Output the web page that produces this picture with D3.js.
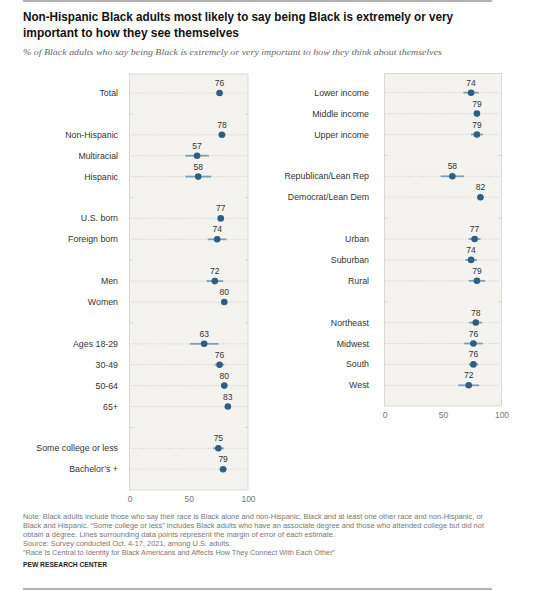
<!DOCTYPE html>
<html>
<head>
<meta charset="utf-8">
<script src="https://cdn.jsdelivr.net/npm/d3@7"></script>
<style>
  body { margin: 0; background: #fff; }
  svg { display: block; }
  text { font-family: "Liberation Sans", Arial, sans-serif; }
</style>
</head>
<body>
<svg id="chart" width="550" height="590"></svg>
<script>
// ---- Data ----
const leftCategories = ["Total", "Non-Hispanic", "Multiracial", "Hispanic", "U.S. born", "Foreign born",
  "Men", "Women", "Ages 18-29", "30-49", "50-64", "65+", "Some college or less", "Bachelor\u2019s +"];
const leftValues = [76, 78, 57, 58, 77, 74, 72, 80, 63, 76, 80, 83, 75, 79];
const leftLow    = [74, 75, 47, 47, 75, 66, 65, 78, 51, 72, 77.5, 80.5, 70.5, 76];
const leftHigh   = [78, 81, 67, 69, 79, 82, 79, 82, 75, 80, 82.5, 85.5, 79.5, 82];
const leftGroup  = [0, 1, 1, 1, 2, 2, 3, 3, 4, 4, 4, 4, 5, 5];

const rightCategories = ["Lower income", "Middle income", "Upper income", "Republican/Lean Rep", "Democrat/Lean Dem",
  "Urban", "Suburban", "Rural", "Northeast", "Midwest", "South", "West"];
const rightValues = [74, 79, 79, 58, 82, 77, 74, 79, 78, 76, 76, 72];
const rightLow    = [67.5, 76.5, 74, 48, 79.5, 72, 69, 72, 72.5, 68, 72, 63];
const rightHigh   = [80.5, 81.5, 84, 68, 84.5, 82, 79, 86, 83.5, 84, 80, 81];
const rightGroup  = [0, 0, 0, 1, 1, 2, 2, 2, 3, 3, 3, 3];

const xTicks = [0, 50, 100];

const titleLines = [
  "Non-Hispanic Black adults most likely to say being Black is extremely or very",
  "important to how they see themselves"
];
const subtitle = "% of Black adults who say being Black is extremely or very important to how they think about themselves";
const noteLines = [
  "Note: Black adults include those who say their race is Black alone and non-Hispanic, Black and at least one other race and non-Hispanic, or",
  "Black and Hispanic. \u201cSome college or less\u201d includes Black adults who have an associate degree and those who attended college but did not",
  "obtain a degree. Lines surrounding data points represent the margin of error of each estimate.",
  "Source: Survey conducted Oct. 4-17, 2021, among U.S. adults.",
  "\u201cRace Is Central to Identity for Black Americans and Affects How They Connect With Each Other\u201d"
];
const sourceLabel = "PEW RESEARCH CENTER";

// ---- Drawing ----
const svg = d3.select("#chart");
const C = {
  dot: "#2f5f80", err: "#7d9fb9", bg: "#f4f3ef", border: "#d9d9d6",
  grid: "#c4c4c0", label: "#333", tick: "#777", note: "#777"
};

// top & bottom rules
svg.append("line").attr("x1", 23).attr("x2", 492).attr("y1", 1).attr("y2", 1)
  .attr("stroke", "#9a9a9a").attr("stroke-width", 1.5);
svg.append("line").attr("x1", 23).attr("x2", 492).attr("y1", 589).attr("y2", 589)
  .attr("stroke", "#9a9a9a").attr("stroke-width", 1.5);

// title
const titleWidths = [430, 216];
titleLines.forEach((t, i) => {
  svg.append("text").attr("x", 23).attr("y", 21 + i * 16)
    .attr("font-size", 13).attr("font-weight", "bold").attr("fill", "#111")
    .attr("textLength", titleWidths[i]).attr("lengthAdjust", "spacingAndGlyphs")
    .text(t);
});
svg.append("text").attr("x", 23).attr("y", 55)
  .attr("font-size", 9).attr("font-style", "italic").attr("fill", "#666")
  .style("font-family", "'Liberation Serif', 'DejaVu Serif', Georgia, serif")
  .attr("textLength", 419).attr("lengthAdjust", "spacingAndGlyphs")
  .text(subtitle);

function panel(cfg) {
  const { cats, vals, lo, hi, grp, x0, x1, top, bottom, firstY, labelX, axisY } = cfg;
  const rows = cats.map((c, i) => i + grp[i]);
  const nRows = d3.max(rows) + 1;
  const step = 20.9;
  const y = d3.scalePoint().domain(d3.range(nRows)).range([firstY, firstY + step * (nRows - 1)]);
  const x = d3.scaleLinear().domain([0, 100]).range([x0, x1]);
  const g = svg.append("g");

  g.append("rect").attr("x", x0).attr("y", top).attr("width", x1 - x0).attr("height", bottom - top)
    .attr("fill", C.bg).attr("stroke", C.border).attr("stroke-width", 1);

  // stubs at empty rows
  const used = new Set(rows);
  d3.range(nRows).filter(r => !used.has(r)).forEach(r => {
    [[x0, x0 + 3], [x1 - 3, x1]].forEach(([a, b]) => {
      g.append("line").attr("x1", a).attr("x2", b).attr("y1", y(r)).attr("y2", y(r))
        .attr("stroke", "#d0d0cc").attr("stroke-width", 1);
    });
  });

  // gridlines
  g.selectAll(".grid").data(rows).join("line")
    .attr("x1", x0 + 1).attr("x2", x1 - 1)
    .attr("y1", r => y(r)).attr("y2", r => y(r))
    .attr("stroke", C.grid).attr("stroke-width", 0.8).attr("stroke-dasharray", "1,1.5");

  // category labels
  g.selectAll(".cat").data(cats).join("text")
    .attr("x", labelX).attr("y", (d, i) => y(rows[i]) + 3)
    .attr("text-anchor", "end").attr("font-size", 8.8).attr("fill", C.label)
    .text(d => d);

  // error bars
  g.selectAll(".err").data(vals).join("line")
    .attr("x1", (d, i) => x(lo[i])).attr("x2", (d, i) => x(hi[i]))
    .attr("y1", (d, i) => y(rows[i])).attr("y2", (d, i) => y(rows[i]))
    .attr("stroke", C.err).attr("stroke-width", 1.8);

  // dots
  g.selectAll(".dot").data(vals).join("circle")
    .attr("cx", d => x(d)).attr("cy", (d, i) => y(rows[i])).attr("r", 3.3)
    .attr("fill", C.dot);

  // value labels
  g.selectAll(".val").data(vals).join("text")
    .attr("x", d => x(d)).attr("y", (d, i) => y(rows[i]) - 7)
    .attr("text-anchor", "middle").attr("font-size", 8.5).attr("fill", C.label)
    .text(d => d);

  // x axis labels
  const axis = d3.axisBottom(x).tickValues(xTicks).tickSize(0).tickPadding(0);
  const ag = g.append("g").attr("transform", `translate(0,${axisY})`).call(axis);
  ag.select(".domain").remove();
  ag.selectAll("text").attr("font-size", 8.5).attr("fill", C.tick)
    .style("font-family", "'Liberation Sans', Arial, sans-serif");
}

panel({ cats: leftCategories, vals: leftValues, lo: leftLow, hi: leftHigh, grp: leftGroup,
  x0: 129.5, x1: 248, top: 74, bottom: 490, firstY: 93, labelX: 118, axisY: 496 });
panel({ cats: rightCategories, vals: rightValues, lo: rightLow, hi: rightHigh, grp: rightGroup,
  x0: 384.5, x1: 501.5, top: 73.5, bottom: 406, firstY: 92.7, labelX: 369, axisY: 412 });

// notes
const noteWidths = [460, 461, 312, 208, 312];
noteLines.forEach((t, i) => {
  svg.append("text").attr("x", 23).attr("y", 518.5 + i * 9)
    .attr("font-size", 7.2).attr("fill", C.note)
    .attr("textLength", noteWidths[i]).attr("lengthAdjust", "spacingAndGlyphs")
    .text(t);
});
svg.append("text").attr("x", 23).attr("y", 567)
  .attr("font-size", 7.4).attr("font-weight", "bold").attr("fill", "#222")
  .attr("textLength", 84).attr("lengthAdjust", "spacingAndGlyphs")
  .text(sourceLabel);
</script>
</body>
</html>
